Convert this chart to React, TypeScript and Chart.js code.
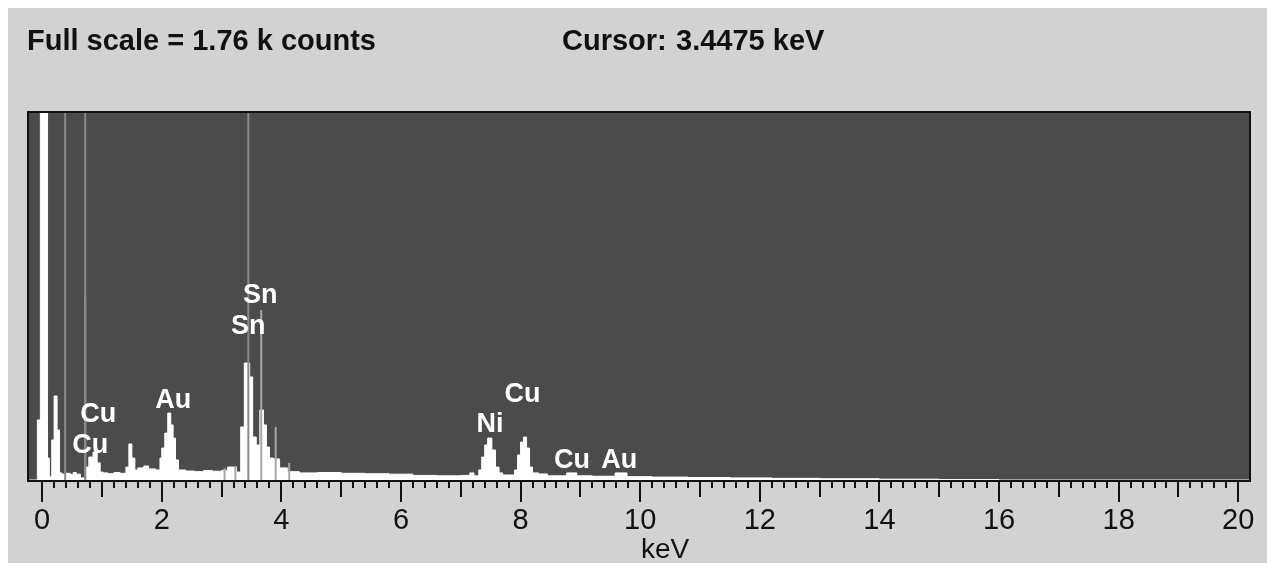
import React, { useEffect, useRef } from 'react';
import { Chart, registerables } from 'chart.js';

Chart.register(...registerables);

// ---- Spectrum data (bin start energy in keV, counts in the bin) ----
const energyKeV = [
  -0.22, -0.08, -0.03, 0.09, 0.12, 0.16, 0.2, 0.25, 0.29, 0.33,
  0.4, 0.47, 0.52, 0.57, 0.64, 0.72, 0.78, 0.85, 0.92, 0.97,
  1.02, 1.1, 1.2, 1.3, 1.4, 1.45, 1.5, 1.55, 1.6, 1.7,
  1.78, 1.9, 1.97, 2.0, 2.05, 2.1, 2.15, 2.19, 2.23, 2.28,
  2.4, 2.55, 2.7, 2.85, 3.0, 3.1, 3.25, 3.32, 3.38, 3.47,
  3.52, 3.58, 3.64, 3.7, 3.75, 3.8, 3.87, 3.97, 4.1, 4.3,
  4.6, 5.0, 5.4, 5.8, 6.2, 6.6, 7.0, 7.15, 7.22, 7.3,
  7.35, 7.4, 7.45, 7.52, 7.58, 7.64, 7.7, 7.9, 7.95, 8.0,
  8.05, 8.1, 8.15, 8.2, 8.3, 8.45, 8.77, 8.94, 9.2, 9.58,
  9.78, 10.2, 10.8, 11.5, 12.2, 13.0, 14.0, 15.0, 16.0, 20.18,
];
const counts = [
  0, 288, 2500, 105, 15, 192, 403, 240, 34, 28,
  32, 26, 36, 28, 10, 62, 110, 134, 82, 38,
  34, 30, 36, 32, 62, 173, 105, 48, 58, 67,
  53, 48, 105, 153, 225, 321, 264, 201, 96, 48,
  43, 40, 45, 42, 46, 62, 38, 254, 561, 494,
  206, 168, 336, 264, 158, 105, 101, 58, 40, 34,
  36, 32, 30, 28, 22, 20, 22, 34, 20, 48,
  110, 168, 201, 144, 62, 34, 24, 48, 120, 182,
  206, 153, 62, 34, 29, 20, 34, 20, 18, 34,
  16, 14, 12, 10, 8, 6, 4, 2, 0, 0,
];

const fullScaleCounts = 1760;
const xMinKeV = -0.22;
const xMaxKeV = 20.18;
const xLabelStep = 2;
const xMinorStep = 0.2;

// ---- Line markers (energy keV, marker top in counts) ----
const markerEnergies = [0.385, 0.72, 0.72, 3.4475, 3.05, 3.23, 3.663, 3.905, 4.131];
const markerTops = [1760, 1760, 878, 1760, 58, 67, 815, 254, 82];

// ---- Element labels ----
const labelTexts = ['Sn', 'Sn', 'Cu', 'Cu', 'Au', 'Ni', 'Cu', 'Cu', 'Au'];
const labelEnergies = [3.645, 3.445, 0.936, 0.803, 2.19, 7.49, 8.03, 8.86, 9.65];
const labelCounts = [849, 700, 278, 129, 345, 230, 374, 58, 58];

const headerLeft = 'Full scale = 1.76 k counts';
const headerCursor = 'Cursor:';
const headerCursorValue = '3.4475 keV';
const axisTitle = 'keV';

const PANEL = '#d2d2d2';
const PLOT_BG = '#4b4b4b';
const FONT = '"Liberation Sans", Arial, sans-serif';

const decorPlugin = {
  id: 'edsDecor',
  beforeDraw(chart: any) {
    const { ctx, width, height } = chart;
    ctx.save();
    ctx.fillStyle = PANEL;
    ctx.fillRect(0, 0, width, height);
    ctx.restore();
  },
  beforeDatasetsDraw(chart: any) {
    const { ctx, chartArea: a } = chart;
    ctx.save();
    ctx.fillStyle = PLOT_BG;
    ctx.fillRect(a.left, a.top, a.right - a.left, a.bottom - a.top);
    ctx.restore();
  },
  afterDraw(chart: any) {
    const { ctx, chartArea: a } = chart;
    const xs = chart.scales.x;
    const ys = chart.scales.y;
    ctx.save();
    // frame
    ctx.strokeStyle = '#111';
    ctx.lineWidth = 2;
    ctx.strokeRect(a.left - 1, a.top - 1, a.right - a.left + 2, a.bottom - a.top + 2);
    // ticks
    const n = Math.round(20 / xMinorStep);
    for (let i = 0; i <= n; i++) {
      const v = i * xMinorStep;
      const px = Math.round(xs.getPixelForValue(v));
      const isEven = i % Math.round(xLabelStep / xMinorStep) === 0;
      const isOdd = !isEven && i % Math.round(1 / xMinorStep) === 0;
      const len = isEven ? 22 : isOdd ? 17 : 8;
      ctx.beginPath();
      ctx.moveTo(px, a.bottom);
      ctx.lineTo(px, a.bottom + len);
      ctx.stroke();
    }
    // element labels
    ctx.fillStyle = '#ffffff';
    ctx.font = `bold 27px ${FONT}`;
    ctx.textAlign = 'center';
    ctx.textBaseline = 'alphabetic';
    labelTexts.forEach((t, i) => {
      ctx.fillText(t, xs.getPixelForValue(labelEnergies[i]), ys.getPixelForValue(labelCounts[i]));
    });
    // header
    ctx.fillStyle = '#111';
    ctx.textAlign = 'left';
    ctx.font = `bold 29px ${FONT}`;
    ctx.fillText(headerLeft, 19, 42);
    ctx.fillText(headerCursor, 554, 42);
    ctx.fillText(headerCursorValue, 668, 42);
    // axis title
    ctx.font = `28px ${FONT}`;
    ctx.textAlign = 'center';
    ctx.fillText(axisTitle, 657, 550);
    ctx.restore();
  },
};

export default function App() {
  const canvasRef = useRef<HTMLCanvasElement | null>(null);

  useEffect(() => {
    if (!canvasRef.current) return;
    const spectrum = energyKeV.map((e, i) => ({ x: e, y: counts[i] }));
    const markerSets = markerEnergies.map((e, i) => ({
      type: 'line' as const,
      data: [
        { x: e, y: 0 },
        { x: e, y: markerTops[i] },
      ],
      borderColor: markerTops[i] >= fullScaleCounts ? '#8a8a8a' : '#a8a8a8',
      borderWidth: 2,
      pointRadius: 0,
      fill: false,
      order: 0,
    }));
    const chart = new Chart(canvasRef.current, {
      type: 'line',
      data: {
        datasets: [
          ...markerSets,
          {
            data: spectrum,
            stepped: 'before',
            borderColor: '#ffffff',
            borderWidth: 1,
            backgroundColor: '#ffffff',
            fill: 'origin',
            pointRadius: 0,
            order: 1,
          } as any,
        ],
      },
      options: {
        animation: false,
        responsive: false,
        events: [],
        layout: { autoPadding: false, padding: { left: 21, right: 18, top: 105, bottom: 0 } },
        plugins: { legend: { display: false }, tooltip: { enabled: false } },
        scales: {
          x: {
            type: 'linear',
            min: xMinKeV,
            max: xMaxKeV,
            grid: { display: false, drawTicks: false },
            border: { display: false },
            ticks: {
              stepSize: xLabelStep,
              includeBounds: false,
              maxRotation: 0,
              autoSkip: false,
              color: '#111',
              padding: 24,
              font: { family: FONT, size: 29 },
            },
            afterFit: (scale: any) => {
              scale.height = 83;
              scale.paddingLeft = 0;
              scale.paddingRight = 0;
            },
          },
          y: {
            display: false,
            min: 0,
            max: fullScaleCounts,
          },
        },
      },
      plugins: [decorPlugin],
    });
    return () => chart.destroy();
  }, []);

  return (
    <div style={{ position: 'fixed', left: 8, top: 8, width: 1259, height: 555 }}>
      <canvas ref={canvasRef} width={1259} height={555} style={{ display: 'block' }} />
    </div>
  );
}
